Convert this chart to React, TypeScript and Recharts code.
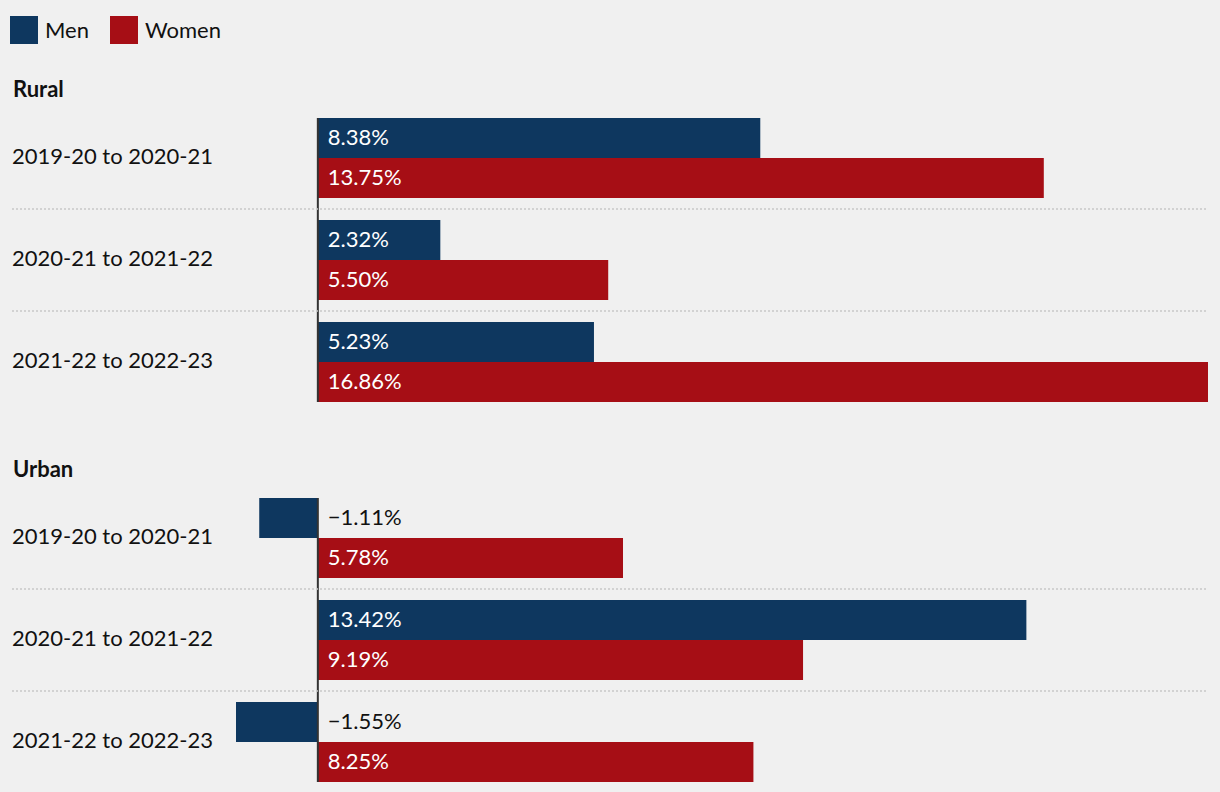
import { BarChart, Bar, XAxis, YAxis, ReferenceLine, LabelList } from 'recharts';

const CATEGORIES = ['2019-20 to 2020-21', '2020-21 to 2021-22', '2021-22 to 2022-23'];
const RURAL_MEN = [8.38, 2.32, 5.23];
const RURAL_WOMEN = [13.75, 5.5, 16.86];
const URBAN_MEN = [-1.11, 13.42, -1.55];
const URBAN_WOMEN = [5.78, 9.19, 8.25];

const MEN_COLOR = '#0e375f';
const WOMEN_COLOR = '#a60e15';
const FONT = 'Lato, "Open Sans", sans-serif';

const ALL = [...RURAL_MEN, ...RURAL_WOMEN, ...URBAN_MEN, ...URBAN_WOMEN];
const DOMAIN: [number, number] = [Math.min(...ALL), Math.max(...ALL)];

const fmt = (v: number) => (v < 0 ? '\u2212' + Math.abs(v).toFixed(2) : v.toFixed(2)) + '%';

function CategoryTick(props: any) {
  const { y, payload, index } = props;
  return (
    <g>
      {index > 0 && (
        <line x1={12} x2={1208} y1={y - 51} y2={y - 51} stroke="#c8c8c8" strokeWidth={1.5} strokeDasharray="2 2" />
      )}
      <text x={12} y={y - 3} dominantBaseline="central" fontSize={22} fill="#111" fontFamily={FONT}>
        {payload.value}
      </text>
    </g>
  );
}

function BarLabel(props: any) {
  const { x, y, width, height, value } = props;
  const zeroX = value < 0 ? Math.max(x, x + width) : Math.min(x, x + width);
  return (
    <text
      x={zeroX + 10}
      y={y + height / 2 - 2}
      dominantBaseline="central"
      fontSize={22}
      fill={value < 0 ? '#111' : '#fff'}
      fontFamily={FONT}
    >
      {fmt(value)}
    </text>
  );
}

function Panel({ men, women }: { men: number[]; women: number[] }) {
  const data = CATEGORIES.map((period, i) => ({ period, men: men[i], women: women[i] }));
  return (
    <BarChart
      width={1220}
      height={306}
      data={data}
      layout="vertical"
      margin={{ top: 0, right: 12, bottom: 0, left: 12 }}
      barCategoryGap={11}
      barGap={0}
    >
      <XAxis type="number" domain={DOMAIN} hide />
      <YAxis
        type="category"
        dataKey="period"
        width={224}
        axisLine={false}
        tickLine={false}
        tick={<CategoryTick />}
      />
      <Bar dataKey="men" fill={MEN_COLOR} isAnimationActive={false}>
        <LabelList dataKey="men" content={<BarLabel />} />
      </Bar>
      <Bar dataKey="women" fill={WOMEN_COLOR} isAnimationActive={false}>
        <LabelList dataKey="women" content={<BarLabel />} />
      </Bar>
      <ReferenceLine
        x={0}
        stroke="#333"
        strokeWidth={2}
        shape={(p: any) => (
          <line x1={p.x1} x2={p.x2} y1={Math.min(p.y1, p.y2) + 11} y2={Math.max(p.y1, p.y2) - 11} stroke="#333" strokeWidth={2} />
        )}
      />
    </BarChart>
  );
}

function LegendItem({ color, label }: { color: string; label: string }) {
  return (
    <div style={{ display: 'flex', alignItems: 'center', marginRight: 21 }}>
      <div style={{ width: 28, height: 28, background: color, marginRight: 7 }} />
      <span style={{ fontSize: 22, color: '#111', position: 'relative', top: -1 }}>{label}</span>
    </div>
  );
}

const titleStyle = { position: 'absolute' as const, left: 13, fontSize: 22, fontWeight: 700, color: '#111', lineHeight: '28px' };

export default function App() {
  return (
    <div
      style={{
        position: 'absolute',
        left: 0,
        top: 0,
        width: 1220,
        height: 792,
        overflow: 'hidden',
        background: '#f0f0f0',
        fontFamily: FONT,
      }}
    >
      <div style={{ position: 'absolute', left: 10, top: 16, display: 'flex' }}>
        <LegendItem color={MEN_COLOR} label="Men" />
        <LegendItem color={WOMEN_COLOR} label="Women" />
      </div>
      <div style={{ ...titleStyle, top: 75 }}>Rural</div>
      <div style={{ position: 'absolute', left: 0, top: 107 }}>
        <Panel men={RURAL_MEN} women={RURAL_WOMEN} />
      </div>
      <div style={{ ...titleStyle, top: 455 }}>Urban</div>
      <div style={{ position: 'absolute', left: 0, top: 487 }}>
        <Panel men={URBAN_MEN} women={URBAN_WOMEN} />
      </div>
    </div>
  );
}
